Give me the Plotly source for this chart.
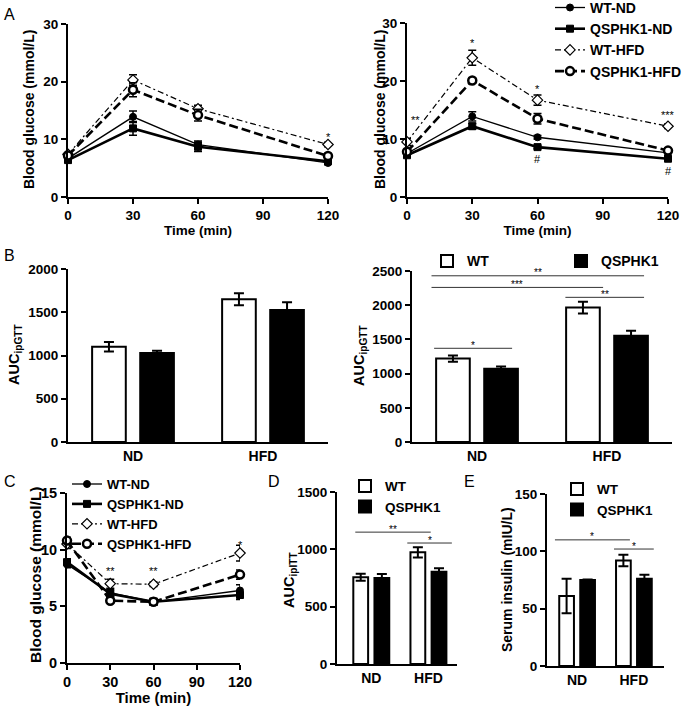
import plotly.graph_objects as go

FONT = "Liberation Sans"
W, H = 685, 706

# ---- data -----------------------------------------------------------------
TIMES = [0, 30, 60, 120]
SERIES = ["WT-ND", "QSPHK1-ND", "WT-HFD", "QSPHK1-HFD"]
GROUPS = ["ND", "HFD"]
GENOTYPES = ["WT", "QSPHK1"]

# A left: ipGTT, blood glucose (mmol/L), mean and error
gtt_a1_mean = {
    "WT-ND": [6.7, 13.9, 9.1, 5.9],
    "QSPHK1-ND": [6.4, 11.9, 8.7, 6.2],
    "WT-HFD": [7.4, 20.3, 15.3, 9.1],
    "QSPHK1-HFD": [7.2, 18.6, 14.2, 7.1],
}
gtt_a1_err = {
    "WT-ND": [0.3, 1.0, 0.6, 0.3],
    "QSPHK1-ND": [0.4, 1.2, 0.8, 0.3],
    "WT-HFD": [0.4, 0.9, 0.6, 0.4],
    "QSPHK1-HFD": [0.4, 1.2, 1.0, 0.3],
}

# A right
gtt_a2_mean = {
    "WT-ND": [7.5, 13.9, 10.3, 7.6],
    "QSPHK1-ND": [7.2, 12.2, 8.6, 6.6],
    "WT-HFD": [9.5, 24.0, 16.7, 12.2],
    "QSPHK1-HFD": [7.8, 20.1, 13.5, 8.0],
}
gtt_a2_err = {
    "WT-ND": [0.4, 0.8, 0.3, 0.5],
    "QSPHK1-ND": [0.3, 0.5, 0.3, 0.4],
    "WT-HFD": [0.6, 1.3, 0.9, 0.4],
    "QSPHK1-HFD": [0.4, 0.4, 0.9, 0.5],
}

# C: ipITT
itt_mean = {
    "WT-ND": [8.7, 6.2, 5.4, 6.4],
    "QSPHK1-ND": [8.9, 6.1, 5.4, 6.0],
    "WT-HFD": [10.5, 7.0, 6.95, 9.7],
    "QSPHK1-HFD": [10.8, 5.5, 5.4, 7.8],
}
itt_err = {
    "WT-ND": [0.3, 0.3, 0.3, 0.5],
    "QSPHK1-ND": [0.3, 0.3, 0.3, 0.4],
    "WT-HFD": [0.4, 0.4, 0.2, 0.7],
    "QSPHK1-HFD": [0.3, 0.2, 0.2, 0.4],
}

# bar panels: {genotype: values per diet group}
auc_gtt1 = {"WT": [1100, 1650], "QSPHK1": [1030, 1525]}
auc_gtt1_err = {"WT": [55, 70], "QSPHK1": [25, 90]}
auc_gtt2 = {"WT": [1220, 1965], "QSPHK1": [1070, 1555]}
auc_gtt2_err = {"WT": [45, 85], "QSPHK1": [35, 70]}
auc_itt = {"WT": [756, 974], "QSPHK1": [750, 805]}
auc_itt_err = {"WT": [30, 45], "QSPHK1": [35, 30]}
insulin = {"WT": [61, 92], "QSPHK1": [75, 76]}
insulin_err = {"WT": [15, 5], "QSPHK1": [0.5, 3.5]}

# significance marks next to points: (x, y, text)
marks_a1 = [(120, 10.4, "*")]
marks_a2 = [(3.8, 13.3, "**"), (30, 26.5, "*"), (60, 18.7, "*"), (120, 14.1, "***"),
            (60, 6.6, "#"), (120, 4.5, "#")]
marks_c = [(30, 8.15, "**"), (60, 8.15, "**"), (120, 10.4, "*")]

# brackets on bar panels: (x0, x1, y, text)
brackets_b2 = [(-0.35, 1.285, 2430, "**"), (-0.35, 0.97, 2260, "***"),
               (0.68, 1.285, 2115, "**"), (-0.33, 0.27, 1370, "*")]
brackets_d = [(-0.28, 1.04, 1150, "**"), (0.63, 1.41, 1055, "*")]
brackets_e = [(-0.39, 0.93, 110, "*"), (0.65, 1.35, 102, "*")]

# ---- styles ---------------------------------------------------------------
LINE_STYLE = {
    "WT-ND": dict(symbol="circle", size=7, fill="black", mlw=1, lw=1.3, dash="solid"),
    "QSPHK1-ND": dict(symbol="square", size=7, fill="black", mlw=1, lw=2.6, dash="solid"),
    "WT-HFD": dict(symbol="diamond", size=8, fill="white", mlw=1.2, lw=1.2, dash="6px,3px,2px,3px"),
    "QSPHK1-HFD": dict(symbol="circle", size=8, fill="white", mlw=2.5, lw=2.6, dash="9px,4px"),
}
BAR_FILL = {"WT": "white", "QSPHK1": "black"}


def px_x(a, b):
    return [a / W, b / W]


def px_y(top, bottom):
    return [1 - bottom / H, 1 - top / H]


def bold(size):
    return dict(family=FONT, size=size, color="black", weight="bold")


def base_axis(tick=13.5, **kw):
    ax = dict(
        showline=True, linecolor="black", linewidth=2, showgrid=False, zeroline=False,
        ticks="outside", ticklen=5, tickwidth=2, tickcolor="black",
        tickfont=bold(tick), title_font=bold(tick),
    )
    ax.update(kw)
    return ax


def line_traces(fig, means, errs, axn, legend=None):
    for name in SERIES:
        st = LINE_STYLE[name]
        fig.add_trace(
            go.Scatter(
                x=TIMES, y=means[name], name=name, mode="lines+markers",
                error_y=dict(type="data", array=errs[name], color="black", thickness=1.5, width=4),
                line=dict(color="black", width=st["lw"], dash=st["dash"]),
                marker=dict(symbol=st["symbol"], size=st["size"], color=st["fill"],
                            line=dict(color="black", width=st["mlw"])),
                xaxis="x" + axn, yaxis="y" + axn, cliponaxis=False,
                legend=legend or "legend", showlegend=legend is not None,
            )
        )


def bar_traces(fig, vals, errs, axn, legend=None):
    for g in GENOTYPES:
        fig.add_trace(
            go.Bar(
                x=GROUPS, y=vals[g], name=g,
                marker=dict(color=BAR_FILL[g], line=dict(color="black", width=2)),
                error_y=dict(type="data", array=errs[g], color="black", thickness=2, width=5),
                xaxis="x" + axn, yaxis="y" + axn,
                legend=legend or "legend", showlegend=legend is not None,
            )
        )


def add_marks(fig, marks, axn):
    for x, y, t in marks:
        fig.add_annotation(x=x, y=y, text=t, xref="x" + axn, yref="y" + axn, showarrow=False,
                           font=dict(family=FONT, size=11, color="black"))


def add_brackets(fig, brackets, axn):
    for x0, x1, y, t in brackets:
        fig.add_shape(type="line", x0=x0, x1=x1, y0=y, y1=y, xref="x" + axn, yref="y" + axn,
                      line=dict(color="#333", width=1))
        fig.add_annotation(x=(x0 + x1) / 2, y=y, text=t, xref="x" + axn, yref="y" + axn,
                           showarrow=False, yanchor="middle", yshift=3,
                           font=dict(family=FONT, size=10, color="black"))


fig = go.Figure()

line_traces(fig, gtt_a1_mean, gtt_a1_err, "")
line_traces(fig, gtt_a2_mean, gtt_a2_err, "2", legend="legend")
bar_traces(fig, auc_gtt1, auc_gtt1_err, "3")
bar_traces(fig, auc_gtt2, auc_gtt2_err, "4", legend="legend2")
line_traces(fig, itt_mean, itt_err, "5", legend="legend3")
bar_traces(fig, auc_itt, auc_itt_err, "6", legend="legend4")
bar_traces(fig, insulin, insulin_err, "7", legend="legend5")

add_marks(fig, marks_a1, "")
add_marks(fig, marks_a2, "2")
add_marks(fig, marks_c, "5")
add_brackets(fig, brackets_b2, "4")
add_brackets(fig, brackets_d, "6")
add_brackets(fig, brackets_e, "7")

time_axis = dict(range=[0, 120], tickvals=[0, 30, 60, 90, 120],
                 title=dict(text="Time (min)", standoff=3))
cat_axis = dict(type="category", ticks="", tick=14)

layout_axes = dict(
    xaxis=base_axis(domain=px_x(68, 328), anchor="y", **time_axis),
    yaxis=base_axis(domain=px_y(24, 197), anchor="x", range=[0, 30], dtick=10),
    xaxis2=base_axis(domain=px_x(407, 668), anchor="y2", **time_axis),
    yaxis2=base_axis(domain=px_y(23, 197), anchor="x2", range=[0, 30], dtick=10),
    xaxis3=base_axis(domain=px_x(68, 328), anchor="y3", range=[-0.5, 1.5], **cat_axis),
    yaxis3=base_axis(domain=px_y(269, 442), anchor="x3", range=[0, 2000], dtick=500),
    xaxis4=base_axis(domain=px_x(412, 672), anchor="y4", range=[-0.5, 1.5], **cat_axis),
    yaxis4=base_axis(domain=px_y(271, 442), anchor="x4", range=[0, 2500], dtick=500),
    xaxis5=base_axis(domain=px_x(67, 240), anchor="y5", tick=14.5, **time_axis),
    yaxis5=base_axis(domain=px_y(493, 663), anchor="x5", range=[0, 15], dtick=5, tick=14.5),
    xaxis6=base_axis(domain=px_x(337, 457), anchor="y6", range=[-0.6, 1.5], **cat_axis),
    yaxis6=base_axis(domain=px_y(492, 664), anchor="x6", range=[0, 1500], dtick=500),
    xaxis7=base_axis(domain=px_x(547, 664), anchor="y7", range=[-0.53, 1.53], **cat_axis),
    yaxis7=base_axis(domain=px_y(494, 666), anchor="x7", range=[0, 150], dtick=50),
)
layout_axes["xaxis5"]["title_font"] = bold(15)


def legend_box(left, row1, size=14, **kw):
    # place legend so that its first row is centred on pixel row `row1`
    item_h = max(size * 1.3, 16) + 3
    top = row1 - 5 - item_h / 2
    lg = dict(x=left / W, y=1 - top / H, xanchor="left", yanchor="top", bgcolor="rgba(0,0,0,0)",
              font=bold(size), itemwidth=30, tracegroupgap=0)
    lg.update(kw)
    return lg


fig.update_layout(
    width=W, height=H, margin=dict(l=0, r=0, t=0, b=0, autoexpand=False),
    plot_bgcolor="white", paper_bgcolor="white",
    font=dict(family=FONT, color="black"),
    barmode="group", bargap=0.26, bargroupgap=0.3,
    legend=legend_box(550, 7.5),
    legend2=legend_box(427, 261, orientation="h", entrywidth=89, entrywidthmode="pixels"),
    legend3=legend_box(67, 484, size=13),
    legend4=legend_box(345, 486, size=13.5),
    legend5=legend_box(557, 489, size=13.5),
    **layout_axes,
)

# rotated y-axis titles: (text, centre x px, centre y px, size)
y_titles = [
    ("Blood glucose (mmol/L)", 29, 110, 14),
    ("Blood glucose (mmol/L)", 380, 110, 14),
    ("AUC<sub>ipGTT</sub>", 15, 355, 14.5),
    ("AUC<sub>ipGTT</sub>", 360, 356, 14.5),
    ("Blood glucose (mmol/L)", 35, 575, 15.5),
    ("AUC<sub>ipITT</sub>", 290, 580, 14.5),
    ("Serum insulin (mIU/L)", 507, 580, 14),
]
for text, cx, cy, size in y_titles:
    fig.add_annotation(text=text, x=cx / W, y=1 - cy / H, xref="paper", yref="paper",
                       textangle=-90, showarrow=False, xanchor="center", yanchor="middle",
                       font=bold(size))

for letter, x, y in [("A", 2, 14), ("B", 2, 255), ("C", 2, 481), ("D", 266, 481), ("E", 462, 481)]:
    fig.add_annotation(text=letter, x=x / W, y=1 - y / H, xref="paper", yref="paper",
                       xanchor="left", yanchor="middle", showarrow=False,
                       font=dict(family=FONT, size=16, color="black"))

fig.write_html("out.html", config={"displayModeBar": False},
               post_script="document.body.style.margin='0';")
